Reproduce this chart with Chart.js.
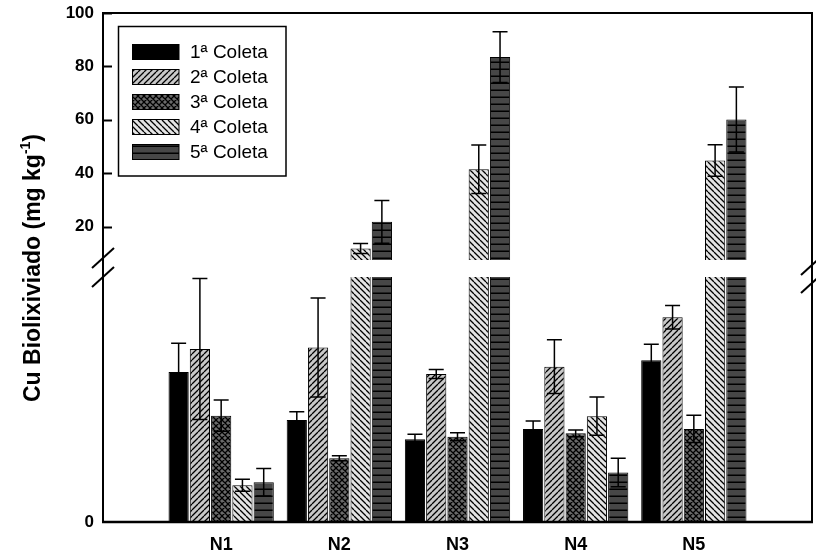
<!DOCTYPE html>
<html>
<head>
<meta charset="utf-8">
<script src="https://cdn.jsdelivr.net/npm/chart.js@4"></script>
<style>
  body { margin: 0; background: #fff; }
  #wrap { position: relative; width: 816px; height: 558px; }
  #wrap canvas { position: absolute; left: 0; top: 0; }
</style>
</head>
<body>
<div id="wrap">
  <canvas id="upper" width="816" height="558"></canvas>
  <canvas id="lower" width="816" height="558"></canvas>
</div>
<script>
// --- Data ---
const categories = ['N1', 'N2', 'N3', 'N4', 'N5'];
const seriesLabels = ['1ª Coleta', '2ª Coleta', '3ª Coleta', '4ª Coleta', '5ª Coleta'];

const coleta1 = [3.06, 2.08, 1.69, 1.90, 3.30];
const coleta1Err = [0.59, 0.17, 0.10, 0.16, 0.33];
const coleta2 = [3.53, 3.56, 3.02, 3.17, 4.18];
const coleta2Err = [1.44, 1.01, 0.09, 0.55, 0.24];
const coleta3 = [2.17, 1.30, 1.74, 1.81, 1.90];
const coleta3Err = [0.32, 0.05, 0.08, 0.07, 0.28];
const coleta4 = [0.75, 11.8, 41.5, 2.16, 44.8];
const coleta4Err = [0.12, 1.9, 9.1, 0.39, 5.9];
const coleta5 = [0.81, 21.8, 83.5, 1.01, 60.1];
const coleta5Err = [0.28, 8.0, 9.5, 0.29, 12.2];

// broken y axis: upper part 7.5..100, lower part 0..5 (only 0 labelled)
const upperRange = [7.5, 100];
const upperTicks = [20, 40, 60, 80, 100];
const lowerRange = [0, 5];
const lowerTicks = [0];

const FONT = "Arial, 'Liberation Sans', sans-serif";

// --- Fill patterns ---
function makePattern(bg, w, h, draw) {
    const c = document.createElement('canvas');
    c.width = w; c.height = h;
    const g = c.getContext('2d');
    g.fillStyle = bg;
    g.fillRect(0, 0, w, h);
    g.strokeStyle = '#000';
    g.lineWidth = 1.3;
    g.beginPath();
    draw(g, w, h);
    g.stroke();
    return g.createPattern(c, 'repeat');
}
const slash = (g, s) => { for (let k = -1; k <= 1; k++) { g.moveTo(k * s, s); g.lineTo(k * s + s, 0); } };
const backslash = (g, s) => { for (let k = -1; k <= 1; k++) { g.moveTo(k * s, 0); g.lineTo(k * s + s, s); } };

const fills = [
    '#000',
    makePattern('#c8c8c8', 6, 6, (g, s) => slash(g, s)),
    makePattern('#6a6a6a', 6, 6, (g, s) => { slash(g, s); backslash(g, s); }),
    makePattern('#e4e4e4', 6, 6, (g, s) => backslash(g, s)),
    makePattern('#474747', 6, 7, (g, w, h) => { g.lineWidth = 1.5; g.moveTo(0, h - 0.75); g.lineTo(w, h - 0.75); })
];

const values = [coleta1, coleta2, coleta3, coleta4, coleta5];
const errors = [coleta1Err, coleta2Err, coleta3Err, coleta4Err, coleta5Err];
const labels = ['', ...categories, ''];

function buildDatasets() {
    return values.map((vals, i) => ({
        label: seriesLabels[i],
        data: [null, ...vals, null],
        errors: [null, ...errors[i], null],
        backgroundColor: fills[i],
        borderColor: '#000',
        borderWidth: 1,
        clip: 0
    }));
}

// --- Plugins ---
const errorBars = {
    id: 'errorBars',
    afterDatasetsDraw(chart) {
        const { ctx, chartArea: a } = chart;
        const y = chart.scales.y;
        ctx.save();
        ctx.beginPath();
        ctx.rect(a.left, a.top, a.right - a.left, a.bottom - a.top);
        ctx.clip();
        ctx.strokeStyle = '#000';
        ctx.lineWidth = 1.5;
        chart.data.datasets.forEach((ds, i) => {
            chart.getDatasetMeta(i).data.forEach((bar, j) => {
                const v = ds.data[j];
                if (v == null) return;
                const e = ds.errors[j];
                const top = y.getPixelForValue(v + e);
                const bot = y.getPixelForValue(v - e);
                ctx.beginPath();
                ctx.moveTo(bar.x, top); ctx.lineTo(bar.x, bot);
                ctx.moveTo(bar.x - 7.5, top); ctx.lineTo(bar.x + 7.5, top);
                ctx.moveTo(bar.x - 7.5, bot); ctx.lineTo(bar.x + 7.5, bot);
                ctx.stroke();
            });
        });
        ctx.restore();
    }
};

// inward tick marks on the left axis
const innerTicks = {
    id: 'innerTicks',
    afterDraw(chart) {
        const { ctx, chartArea: a } = chart;
        const y = chart.scales.y;
        ctx.save();
        ctx.strokeStyle = '#000';
        ctx.lineWidth = 2;
        y.ticks.forEach(t => {
            const py = Math.round(y.getPixelForValue(t.value)) + 0.5;
            ctx.beginPath();
            ctx.moveTo(a.left, py);
            ctx.lineTo(a.left + 9, py);
            ctx.stroke();
        });
        ctx.restore();
    }
};

function makeOptions(range, ticks, padding, showX) {
    return {
        responsive: false,
        animation: false,
        layout: { padding },
        datasets: { bar: { categoryPercentage: 0.9, barPercentage: 0.95 } },
        plugins: { legend: { display: false }, tooltip: { enabled: false } },
        scales: {
            x: {
                display: showX,
                offset: false,
                grid: { display: false, drawTicks: false },
                border: { display: false },
                afterFit: s => { s.height = showX ? 36 : 0; s.paddingLeft = 0; s.paddingRight = 0; },
                ticks: {
                    autoSkip: false, maxRotation: 0, padding: 12, color: '#000',
                    font: { family: FONT, size: 18, weight: 'bold' }
                }
            },
            y: {
                min: range[0],
                max: range[1],
                afterFit: s => { s.width = 103; s.paddingTop = 0; s.paddingBottom = 0; },
                afterBuildTicks: s => { s.ticks = ticks.map(v => ({ value: v })); },
                grid: { display: false, drawTicks: false },
                border: { display: false },
                ticks: {
                    padding: 9, color: '#000',
                    font: { family: FONT, size: 17, weight: 'bold' }
                }
            }
        }
    };
}

// --- Upper part of the broken axis ---
const upperChart = new Chart(document.getElementById('upper'), {
    type: 'bar',
    data: { labels, datasets: buildDatasets() },
    options: makeOptions(upperRange, upperTicks, { top: 13, right: 4, bottom: 298, left: 0 }, false),
    plugins: [errorBars, innerTicks]
});

// frame, axis breaks, y title and legend
const overlay = {
    id: 'overlay',
    afterDraw(chart) {
        const { ctx } = chart;
        const a = chart.chartArea;
        const top = upperChart.chartArea.top;
        ctx.save();
        ctx.strokeStyle = '#000';

        // frame
        ctx.lineWidth = 2;
        ctx.beginPath();
        ctx.moveTo(a.left, a.bottom);
        ctx.lineTo(a.left, top);
        ctx.lineTo(a.right, top);
        ctx.lineTo(a.right, a.bottom);
        ctx.stroke();
        ctx.lineWidth = 2.5;
        ctx.beginPath();
        ctx.moveTo(a.left - 1, a.bottom);
        ctx.lineTo(a.right + 1, a.bottom);
        ctx.stroke();

        // break marks
        ctx.lineWidth = 2;
        [[a.left, 258], [a.left, 277], [a.right, 265], [a.right, 283]].forEach(([x, y]) => {
            ctx.beginPath();
            ctx.moveTo(x - 11, y + 10);
            ctx.lineTo(x + 11, y - 10);
            ctx.stroke();
        });

        // y axis title
        ctx.save();
        ctx.translate(40, 268);
        ctx.rotate(-Math.PI / 2);
        ctx.fillStyle = '#000';
        ctx.textBaseline = 'alphabetic';
        const main = 'Cu Biolixiviado (mg kg';
        const sup = '-1';
        ctx.font = `bold 23px ${FONT}`;
        const w1 = ctx.measureText(main).width;
        const w3 = ctx.measureText(')').width;
        ctx.font = `bold 14px ${FONT}`;
        const w2 = ctx.measureText(sup).width;
        let x0 = -(w1 + w2 + w3) / 2;
        ctx.font = `bold 23px ${FONT}`;
        ctx.fillText(main, x0, 0);
        ctx.font = `bold 14px ${FONT}`;
        ctx.fillText(sup, x0 + w1, -10);
        ctx.font = `bold 23px ${FONT}`;
        ctx.fillText(')', x0 + w1 + w2, 0);
        ctx.restore();

        // legend
        ctx.lineWidth = 1.5;
        ctx.strokeRect(118.5, 26.5, 167.5, 149.5);
        ctx.font = `19px ${FONT}`;
        ctx.textBaseline = 'middle';
        ctx.fillStyle = '#000';
        chart.data.datasets.forEach((ds, i) => {
            const cy = 52 + i * 25;
            ctx.fillStyle = ds.backgroundColor;
            ctx.fillRect(132.5, cy - 7.5, 46.5, 15);
            ctx.lineWidth = 1;
            ctx.strokeRect(132.5, cy - 7.5, 46.5, 15);
            ctx.fillStyle = '#000';
            ctx.fillText(ds.label, 190, cy + 1);
        });
        ctx.restore();
    }
};

// --- Lower part of the broken axis ---
const lowerChart = new Chart(document.getElementById('lower'), {
    type: 'bar',
    data: { labels, datasets: buildDatasets() },
    options: makeOptions(lowerRange, lowerTicks, { top: 277, right: 4, bottom: 0, left: 0 }, true),
    plugins: [errorBars, overlay]
});
</script>
</body>
</html>
